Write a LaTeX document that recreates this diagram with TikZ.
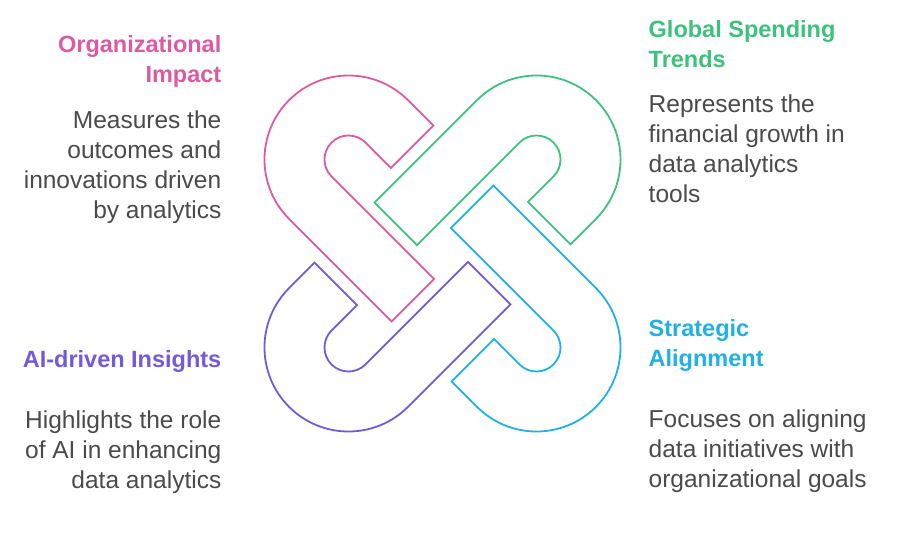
\documentclass[tikz,border=0pt]{standalone}
\usepackage{fontspec}
\setmainfont{Liberation Sans}
\usepackage{tikz}
\definecolor{impactpink}{HTML}{DD5AA0}
\definecolor{spendgreen}{HTML}{3EC07E}
\definecolor{alignblue}{HTML}{1FB1E4}
\definecolor{insightpurple}{HTML}{7459DD}
\definecolor{bodygray}{HTML}{4A4A4A}

\begin{document}
\begin{tikzpicture}[x=1pt,y=1pt,
  hookline/.style={line width=1.8pt,line join=miter},
  title/.style={inner sep=0pt,font=\fontsize{23.5}{30}\selectfont\bfseries},
  desc/.style={inner sep=0pt,text=bodygray,font=\fontsize{24.5}{30}\selectfont}]
\useasboundingbox (0,0) rectangle (900,541);
% four interlocking hooks
\foreach \cx/\cy/\ang/\col in {348.5/381.5/-45/impactpink,536.5/381.5/-135/spendgreen,
    536.5/193.5/135/alignblue,348.5/193.5/45/insightpurple}
  \draw[hookline,draw=\col,shift={(\cx,\cy)},rotate=\ang]
    (36,84) -- (0,84) arc[start angle=90,end angle=270,radius=84pt] -- (145,-84)
    -- (145,-24) -- (0,-24) arc[start angle=270,end angle=90,radius=24pt] -- (36,24) -- cycle;
% left column (base = last line)
\node[title,text=impactpink,align=right,anchor=base east] (impact) at (221.5,458) {Organizational\\Impact};
\node[desc,align=right,anchor=base east] (impact-text) at (221.5,322) {Measures the\\outcomes and\\innovations driven\\by analytics};
\node[title,text=insightpurple,align=right,anchor=base east] (insights) at (221.5,173) {AI-driven Insights};
\node[desc,align=right,anchor=base east] (insights-text) at (221.5,52) {Highlights the role\\of AI in enhancing\\data analytics};
% right column
\node[title,text=spendgreen,align=left,anchor=base west] (spending) at (648.5,473.5) {Global Spending\\Trends};
\node[desc,align=left,anchor=base west] (spending-text) at (648.5,338) {Represents the\\financial growth in\\data analytics\\tools};
\node[title,text=alignblue,align=left,anchor=base west] (alignment) at (648.5,174) {Strategic\\Alignment};
\node[desc,align=left,anchor=base west] (alignment-text) at (648.5,53) {Focuses on aligning\\data initiatives with\\organizational goals};
\end{tikzpicture}
\end{document}
